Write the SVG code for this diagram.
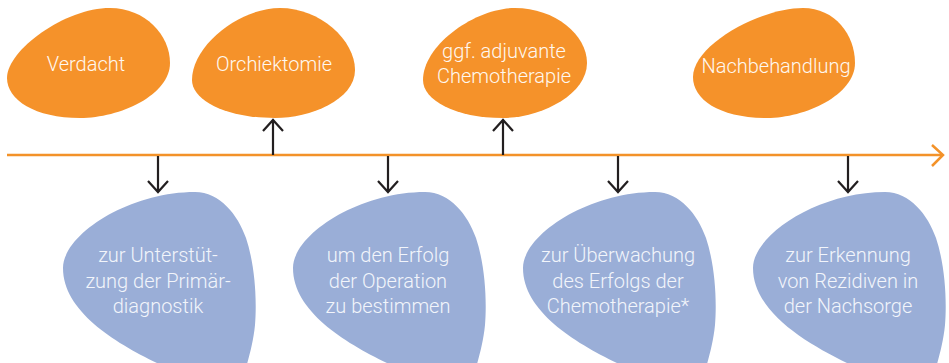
<svg xmlns="http://www.w3.org/2000/svg" width="949" height="363" viewBox="0 0 949 363">
<defs>
<style>
.o{fill:#F5922A}
.b{fill:#9AAED7}
.t{font-family:Roboto,"Liberation Sans",sans-serif;font-weight:300;font-size:20px;text-anchor:middle}
.to{fill:#FFF8F0}
.tb{fill:#F2F5FB}
.ar{fill:none;stroke:#231F20;stroke-width:2.2;stroke-linecap:butt;stroke-linejoin:miter}
.tl{fill:none;stroke:#F39229;stroke-width:2.5}
</style>
<path id="blue" d="M 37 192 C 62 192 80 215 88 238 C 97 265 99 300 97 325 C 95 345 90 360 86 375 L 25 375 C -20 355 -95 320 -95 268 C -95 235 -30 192 37 192 Z"/>
</defs>
<rect width="949" height="363" fill="#FFFFFF"/>
<g id="connectors">
<path class="tl" d="M 7 155 H 942"/>
<path class="tl" d="M 932 145 L 943 155 L 932 166"/>
<path class="ar" d="M 273 155 V 120 M 263 131 L 273 120 L 283 131"/>
<path class="ar" d="M 503 155 V 120 M 493 131 L 503 120 L 513 131"/>
<path class="ar" d="M 158 156 V 192 M 148 181 L 158 192 L 168 181"/>
<path class="ar" d="M 388 156 V 192 M 378 181 L 388 192 L 398 181"/>
<path class="ar" d="M 618 156 V 192 M 608 181 L 618 192 L 628 181"/>
<path class="ar" d="M 848 156 V 192 M 838 181 L 848 192 L 858 181"/>
</g>
<g id="verdacht">
<path class="o" d="M 110 8 C 145 8 170 35 170 63 C 170 95 120 118 80 118 C 35 118 7 100 7 78 C 7 50 65 8 110 8 Z"/>
<text class="t to" x="86" y="71">Verdacht</text>
</g>
<g id="orchiektomie">
<path class="o" d="M 280 8 C 320 8 355 40 355 70 C 355 100 310 118 275 118 C 225 118 192 100 192 80 C 192 45 240 8 280 8 Z"/>
<text class="t to" x="274" y="71">Orchiektomie</text>
</g>
<g id="chemotherapie">
<path class="o" d="M 515 8 C 555 8 587 35 587 63 C 587 95 540 118 503 118 C 455 118 423 100 423 80 C 423 45 475 8 515 8 Z"/>
<text class="t to" x="504" y="58">ggf. adjuvante</text>
<text class="t to" x="504" y="83">Chemotherapie</text>
</g>
<g id="nachbehandlung">
<path class="o" d="M 803 8 C 835 8 855 35 855 63 C 855 95 805 118 767 118 C 720 118 693 100 693 77 C 693 45 760 8 803 8 Z"/>
<text class="t to" x="776" y="73">Nachbehandlung</text>
</g>
<g id="primaerdiagnostik">
<use href="#blue" class="b" transform="translate(158 0)"/>
<text class="t tb" x="158" y="262">zur Unterstüt-</text>
<text class="t tb" x="158" y="288">zung der Primär-</text>
<text class="t tb" x="158" y="313">diagnostik</text>
</g>
<g id="operation">
<use href="#blue" class="b" transform="translate(388 0)"/>
<text class="t tb" x="388" y="262">um den Erfolg</text>
<text class="t tb" x="388" y="288">der Operation</text>
<text class="t tb" x="388" y="313">zu bestimmen</text>
</g>
<g id="ueberwachung">
<use href="#blue" class="b" transform="translate(618 0)"/>
<text class="t tb" x="618" y="262">zur Überwachung</text>
<text class="t tb" x="618" y="288">des Erfolgs der</text>
<text class="t tb" x="618" y="313">Chemotherapie*</text>
</g>
<g id="nachsorge">
<use href="#blue" class="b" transform="translate(848 0)"/>
<text class="t tb" x="848" y="262">zur Erkennung</text>
<text class="t tb" x="848" y="288">von Rezidiven in</text>
<text class="t tb" x="848" y="313">der Nachsorge</text>
</g>
</svg>
